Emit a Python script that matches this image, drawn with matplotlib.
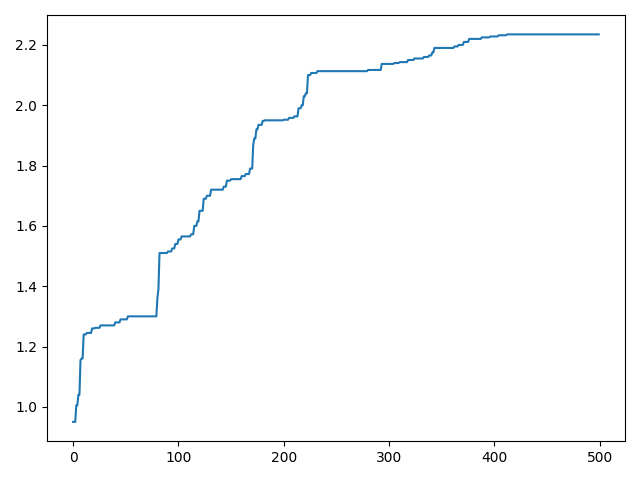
import numpy as np
import matplotlib
matplotlib.use("Agg")
import matplotlib.pyplot as plt

# step levels: index where each level starts, and its value
step_start = [0, 3, 5, 7, 8, 10, 13, 18, 21, 26, 40, 45, 52,
              80, 81, 82, 90, 94, 97, 100, 103, 112,
              115, 118, 120, 124, 127, 131, 143, 146, 150, 160, 164, 168,
              171, 172, 174, 176, 180, 182, 200, 205, 210,
              214, 217, 219, 221, 223, 226, 232, 280, 293,
              305, 310, 318, 324, 333, 338, 341, 343, 362,
              366, 371, 376, 388, 396, 404, 412]
step_value = [0.95, 1.005, 1.04, 1.155, 1.16, 1.24, 1.245, 1.26, 1.262, 1.27, 1.28, 1.29, 1.30,
              1.36, 1.39, 1.51, 1.515, 1.525, 1.54, 1.555, 1.565, 1.572,
              1.60, 1.615, 1.65, 1.69, 1.70, 1.72, 1.73, 1.75, 1.755, 1.765, 1.772, 1.79,
              1.87, 1.89, 1.92, 1.935, 1.948, 1.95, 1.952, 1.958, 1.963,
              1.99, 2.00, 2.03, 2.04, 2.10, 2.107, 2.113, 2.117, 2.137,
              2.14, 2.143, 2.15, 2.155, 2.16, 2.165, 2.175, 2.19, 2.195,
              2.20, 2.21, 2.22, 2.225, 2.228, 2.232, 2.235]
n_points = 500


def main() -> None:
    counts = np.diff(step_start + [n_points])
    y = np.repeat(step_value, counts)

    fig, ax = plt.subplots(figsize=(6.4, 4.8), dpi=100)
    ax.plot(np.arange(n_points), y)
    plt.tight_layout()
    plt.savefig("out.png")
    plt.close()


if __name__ == "__main__":
    main()
